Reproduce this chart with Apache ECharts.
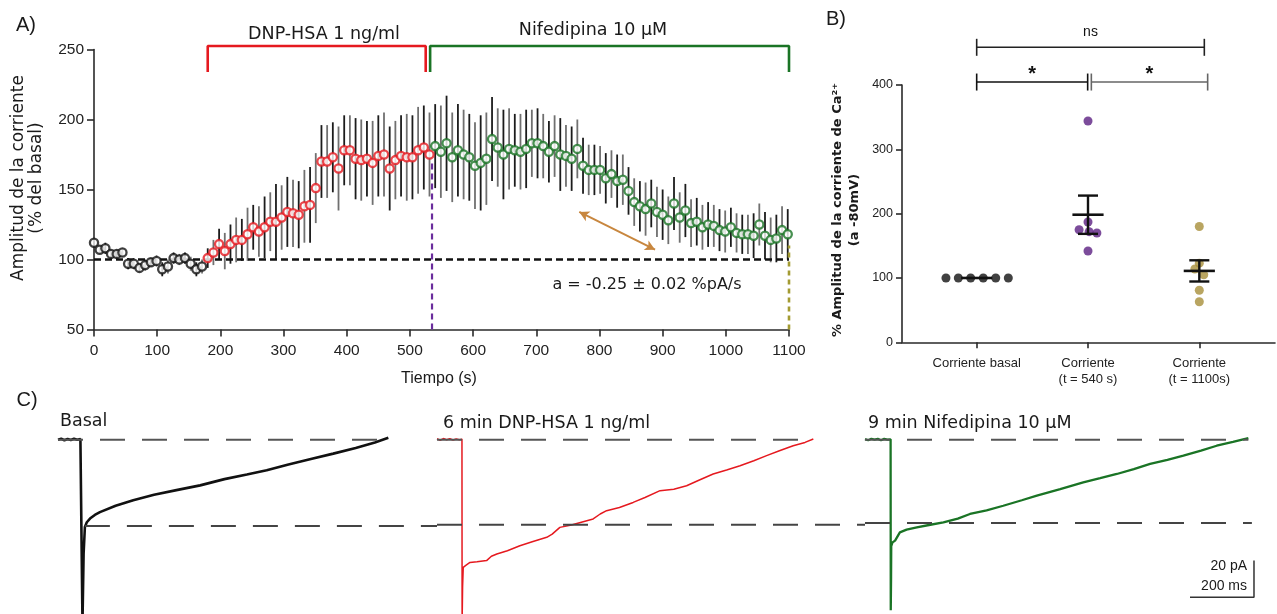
<!DOCTYPE html>
<html>
<head>
<meta charset="utf-8">
<script src="https://cdn.jsdelivr.net/npm/echarts@6.0.0/dist/echarts.min.js"></script>
<style>
html,body{margin:0;padding:0;background:#ffffff;}
#chart{width:1277px;height:614px;}
</style>
</head>
<body>
<div id="chart"></div>
<script>
// ================= Panel A data (time in s, % of basal) =================
const basalTime = [0,9,18,27,36,45,54,63,72,81,90,99,108,117,126,135,144,153,162,171];
const basalMean = [112,107,108,104,104,105,97,97,94,96,98,99,93,95,101,100,101,97,93,95];
const basalSem  = [3,3,4,3,3,3,4,4,3,4,3,4,5,5,4,4,4,5,5,5];

const dnpTime = [180,189,198,207,216,225,234,243,252,261,270,279,288,297,306,315,324,333,342,351,
                 360,369,378,387,396,405,414,423,432,441,450,459,468,477,486,495,504,513,522,531];
const dnpMean = [101,105,111,106,111,114,114,118,123,120,123,127,127,130,134,133,132,138,139,151,
                 170,170,173,165,178,178,172,171,172,169,174,175,165,171,174,173,173,178,180,175];
const dnpSem  = [7,9,11,13,14,16,15,19,16,18,22,21,27,23,25,24,24,26,27,25,
                 26,26,25,30,25,25,29,29,27,30,29,30,30,28,29,31,30,31,30,30];

const nifTime = [540,549,558,567,576,585,594,603,612,621,630,639,648,657,666,675,684,693,702,711,
                 720,729,738,747,756,765,774,783,792,801,810,819,828,837,846,855,864,873,882,891,
                 900,909,918,927,936,945,954,963,972,981,990,999,1008,1017,1026,1035,1044,1053,1062,1071,
                 1080,1089,1098];
const nifMean = [181,177,183,173,178,175,173,167,169,172,186,180,175,179,178,177,179,183,183,181,
                 177,181,175,174,172,179,167,164,164,164,158,161,156,157,149,141,138,136,140,134,
                 132,128,140,130,135,126,127,123,125,124,121,120,123,119,118,118,117,125,117,114,
                 115,121,118];
const nifSem  = [30,33,34,32,33,32,31,31,34,33,30,28,32,29,26,27,28,24,25,23,
                 22,22,26,22,23,21,20,18,18,17,18,17,19,18,17,17,18,19,17,18,
                 18,17,19,18,19,17,17,16,16,15,15,15,14,14,14,14,16,15,17,16,
                 17,17,18];

const xTicksA = [0,100,200,300,400,500,600,700,800,900,1000,1100];
const yTicksA = [50,100,150,200,250];
const dnpPeriod = [180, 525];
const nifPeriod = [532, 1100];
const baselinePct = 100;
const markT540 = 535;
const markT1100 = 1100;
const slopeArrow = [[768,134],[888,107]];
const slopeText = 'a = -0.25 ± 0.02 %pA/s';

// ================= Panel B data (% amplitude at -80 mV) =================
const groupLabels = ['Corriente basal', 'Corriente\n(t = 540 s)', 'Corriente\n(t = 1100s)'];
const valsBasal = [100,100,100,100,100,100];
const vals540   = [344,187,175,172,170,142];
const vals1100  = [180,123,114,105,81,63];
const comparisons = [[0,2,'ns'],[0,1,'*'],[1,2,'*']];
const yTicksB = [0,100,200,300,400];

// ================= Panel C data (traces: [ms, pA]) =================
const traceBasal = [[0,0],[10,0.5],[20,-0.3],[30,0.4],[40,-0.2],[50,0.5],[60,0],[70,0.3],[76,0],
  [76.5,-100],[80,-62],[84,-47.6],[90,-45],[100,-43],[115,-41],[131,-39.5],[180,-36],[235,-33],
  [300,-30],[370,-27.5],[444,-24.9],[520,-21.5],[590,-19],[652,-16.7],[720,-13.5],[790,-10.5],
  [860,-7.6],[930,-4.5],[990,-1.5],[1032,1]];
const traceDnp = [[0,0.5],[10,-0.3],[20,0.6],[30,0],[40,0.5],[50,-0.2],[60,0.4],[70,0],[78,0.3],
  [78.5,-100],[80,-80],[82,-69.6],[90,-68.5],[103,-66.9],[125,-66.5],[155,-65.9],[170,-63.5],
  [187,-62.3],[220,-60.5],[259,-57.8],[300,-55.5],[343,-53.2],[360,-51.5],[384,-47.8],[420,-46.5],
  [488,-43.2],[510,-40.5],[530,-38.7],[570,-37],[613,-34.2],[650,-31.5],[697,-27.8],[740,-27],
  [780,-25.1],[820,-22],[863,-18.7],[905,-16.5],[947,-14.2],[990,-11.5],[1030,-8.7],[1070,-6],
  [1113,-3.3],[1150,-1.5],[1176,0.4]];
const traceNif = [[0,0.3],[10,-0.3],[20,0.5],[30,0],[40,0.4],[50,-0.3],[60,0.4],[70,0],[80,0.2],
  [80.5,-93],[81.5,-75],[82,-58],[86,-56],[94,-55],[109,-50.5],[130,-49],[162,-47.8],[200,-46.5],
  [245,-45.1],[290,-43],[328,-40.5],[380,-38.5],[432,-36],[490,-33],[537,-30.5],[610,-27],
  [682,-23.3],[735,-21],[787,-18.7],[840,-16],[891,-13.2],[945,-11],[995,-8.7],[1050,-6],
  [1099,-3.3],[1150,-1.2],[1198,0.9]];
const peakLevels = [-47, -46.3, -45.4];
const scaleBarPA = 20;
const scaleBarMS = 200;

// ================= helpers / styles =================
const ARIAL = '"Liberation Sans", Arial, Helvetica, sans-serif';
const DEJAVU = '"DejaVu Sans", sans-serif';
const AXIS_COL = '#2a2a2a';
const RED = '#e5191f', GREEN = '#1a7425', BLACK = '#111111';
const PURPLE = '#5b1f82', OLIVE = '#a88f3a';

const zip = (xs, ys) => xs.map((x, i) => [x, ys[i]]);
const mean = a => a.reduce((s, v) => s + v, 0) / a.length;
const sem = a => { const m = mean(a); const sd = Math.sqrt(a.reduce((s, v) => s + (v - m) * (v - m), 0) / (a.length - 1)); return sd / Math.sqrt(a.length); };

const tA = basalTime.concat(dnpTime, nifTime);
const mA = basalMean.concat(dnpMean, nifMean);
const sA = basalSem.concat(dnpSem, nifSem);
const errA = tA.map((t, i) => [t, mA[i] - sA[i], mA[i] + sA[i]]);

// swarm offsets (layout only)
const swarmBasal = [-0.276,-0.165,-0.054,0.059,0.171,0.284];
const swarm540   = [0,0,-0.08,0.01,0.08,0];
const swarm1100  = [0,0,-0.04,0.04,0,0];
const groups = [valsBasal, vals540, vals1100];
const groupColors = [BLACK, PURPLE, OLIVE];
const swarms = [swarmBasal, swarm540, swarm1100];

// bracket layout (panel B)
const bracketSpans = [[0,2.045],[0,0.997],[1.03,2.075]];
const bracketLevels = [458.6, 404.6, 404.6];
const bracketColors = ['#222', '#111', '#666'];

const chart = echarts.init(document.getElementById('chart'), null, {renderer: 'canvas', width: 1277, height: 614});

const gridBase = {containLabel: false, outerBoundsMode: 'none', show: false};
const grids = [
  Object.assign({left: 94, top: 49.5, width: 695, height: 280}, gridBase),
  Object.assign({left: 902, top: 85, width: 373, height: 257.3}, gridBase),
  Object.assign({left: 58, top: 430.5, width: 379, height: 183.5}, gridBase),
  Object.assign({left: 437, top: 430.5, width: 428, height: 183.5}, gridBase),
  Object.assign({left: 865, top: 430.5, width: 412, height: 183.5}, gridBase)
];

const axisLineStyle = {color: AXIS_COL, width: 1.6};
const xAxes = [
  {gridIndex: 0, type: 'value', min: xTicksA[0], max: xTicksA[xTicksA.length - 1], interval: 100,
   axisLine: {show: true, onZero: false, lineStyle: axisLineStyle},
   axisTick: {show: true, length: 7, lineStyle: axisLineStyle},
   axisLabel: {fontSize: 15.5, color: '#222', fontFamily: ARIAL, margin: 13, formatter: v => String(v)},
   splitLine: {show: false}},
  {gridIndex: 1, type: 'value', min: -0.671, max: 2.68,
   axisLine: {show: true, onZero: false, lineStyle: axisLineStyle},
   axisTick: {show: true, length: 6, customValues: [0,1,2], lineStyle: axisLineStyle},
   axisLabel: {customValues: [0,1,2], formatter: v => groupLabels[Math.round(v)], fontSize: 13, lineHeight: 16,
               color: '#222', fontFamily: ARIAL, margin: 13},
   splitLine: {show: false}},
  {gridIndex: 2, type: 'value', min: 0, max: 1184, show: false},
  {gridIndex: 3, type: 'value', min: 0, max: 1337.5, show: false},
  {gridIndex: 4, type: 'value', min: 0, max: 1287.5, show: false}
];
const yAxes = [
  {gridIndex: 0, type: 'value', min: yTicksA[0], max: yTicksA[yTicksA.length - 1], interval: 50,
   axisLine: {show: true, onZero: false, lineStyle: axisLineStyle},
   axisTick: {show: true, length: 7, lineStyle: axisLineStyle},
   axisLabel: {fontSize: 15.5, color: '#222', fontFamily: ARIAL, margin: 10, formatter: v => String(v)},
   splitLine: {show: false}},
  {gridIndex: 1, type: 'value', min: yTicksB[0], max: yTicksB[yTicksB.length - 1], interval: 100,
   axisLine: {show: true, onZero: false, lineStyle: axisLineStyle},
   axisTick: {show: true, length: 6, lineStyle: axisLineStyle},
   axisLabel: {fontSize: 12.5, color: '#222', fontFamily: ARIAL, margin: 9},
   splitLine: {show: false}},
  {gridIndex: 2, type: 'value', min: -95, max: 5, show: false},
  {gridIndex: 3, type: 'value', min: -95, max: 5, show: false},
  {gridIndex: 4, type: 'value', min: -95, max: 5, show: false}
];

function lineEl(a, b, color, w) {
  return {type: 'line', shape: {x1: a[0], y1: a[1], x2: b[0], y2: b[1]}, style: {stroke: color, lineWidth: w}};
}

const series = [];

// ---- Panel A ----
series.push({
  type: 'custom', xAxisIndex: 0, yAxisIndex: 0, data: errA, z: 2,
  encode: {x: 0, y: [1, 2]},
  renderItem: (params, api) => {
    const p1 = api.coord([api.value(0), api.value(1)]);
    const p2 = api.coord([api.value(0), api.value(2)]);
    return lineEl(p1, p2, params.dataIndex % 2 ? '#707070' : '#1c1c1c', 1.8);
  }
});
series.push({
  type: 'line', xAxisIndex: 0, yAxisIndex: 0, symbol: 'none', z: 3, silent: true,
  data: [[xTicksA[0], baselinePct], [xTicksA[xTicksA.length - 1], baselinePct]],
  lineStyle: {color: '#111', width: 2.6, type: [7, 4]},
  markLine: {silent: true, symbol: ['arrow', 'arrow'], symbolSize: [8, 10],
    lineStyle: {color: '#c8873f', width: 2, type: 'solid'}, label: {show: false},
    data: [[{coord: slopeArrow[0]}, {coord: slopeArrow[1]}]]}
});
series.push({
  type: 'line', xAxisIndex: 0, yAxisIndex: 0, symbol: 'none', z: 3, silent: true,
  data: [[markT540, 50], [markT540, 169]], lineStyle: {color: '#6a2c9c', width: 2.2, type: [6, 4]}
});
series.push({
  type: 'line', xAxisIndex: 0, yAxisIndex: 0, symbol: 'none', z: 3, silent: true,
  data: [[markT1100, 50], [markT1100, 110]], lineStyle: {color: '#a39b32', width: 2.6, type: [5, 4]}
});
[[dnpPeriod, RED], [nifPeriod, GREEN]].forEach(([p, c]) => {
  series.push({
    type: 'line', xAxisIndex: 0, yAxisIndex: 0, symbol: 'none', clip: false, silent: true, z: 3,
    data: [[p[0], 234], [p[0], 252.5], [p[1], 252.5], [p[1], 234]],
    lineStyle: {color: c, width: 2.6}
  });
});
[[basalTime, basalMean, BLACK], [dnpTime, dnpMean, RED], [nifTime, nifMean, GREEN]].forEach(([t, m, c]) => {
  series.push({
    type: 'scatter', xAxisIndex: 0, yAxisIndex: 0, data: zip(t, m), symbol: 'circle', symbolSize: 8.2, z: 5,
    itemStyle: {color: '#ffffff', borderColor: c, borderWidth: 2.3}
  });
});

// ---- Panel B ----
groups.forEach((vals, g) => {
  series.push({
    type: 'scatter', xAxisIndex: 1, yAxisIndex: 1, symbol: 'circle', symbolSize: 9, z: 4,
    data: vals.map((v, i) => [g + swarms[g][i], v]),
    itemStyle: {color: groupColors[g]}
  });
});
series.push({
  type: 'custom', xAxisIndex: 1, yAxisIndex: 1, z: 6,
  data: groups.map((vals, g) => [g, mean(vals), sem(vals)]),
  renderItem: (params, api) => {
    const g = api.value(0), m = api.value(1), s = api.value(2);
    const c = (x, y) => api.coord([x, y]);
    const ch = [lineEl(c(g - 0.14, m), c(g + 0.14, m), '#111', 2.6)];
    if (s > 0.5) {
      ch.push(lineEl(c(g, m - s), c(g, m + s), '#111', 2.4));
      ch.push(lineEl(c(g - 0.09, m + s), c(g + 0.09, m + s), '#111', 2.4));
      ch.push(lineEl(c(g - 0.09, m - s), c(g + 0.09, m - s), '#111', 2.4));
    }
    return {type: 'group', children: ch};
  }
});
series.push({
  type: 'custom', xAxisIndex: 1, yAxisIndex: 1, z: 6, clip: false,
  data: comparisons.map(c => [c[0], c[1]]),
  renderItem: (params, api) => {
    const i = params.dataIndex;
    const sp = bracketSpans[i], lv = bracketLevels[i], col = bracketColors[i];
    const p1 = api.coord([sp[0], lv]), p2 = api.coord([sp[1], lv]);
    const h = 8.5;
    const isNs = comparisons[i][2] === 'ns';
    return {type: 'group', children: [
      lineEl(p1, p2, col, 1.6),
      lineEl([p1[0], p1[1] - h], [p1[0], p1[1] + h], col, 1.6),
      lineEl([p2[0], p2[1] - h], [p2[0], p2[1] + h], col, 1.6),
      {type: 'text', x: (p1[0] + p2[0]) / 2, y: p1[1] - (isNs ? 15 : 8),
       style: {text: comparisons[i][2], textAlign: 'center', textVerticalAlign: 'middle', align: 'center', verticalAlign: 'middle',
               font: isNs ? '14px ' + ARIAL : 'bold 20px ' + ARIAL, fill: '#111'}}
    ]};
  }
});

// ---- Panel C ----
const traces = [traceBasal, traceDnp, traceNif];
const traceColors = [BLACK, RED, GREEN];
const traceWidths = [2.6, 1.5, 2.3];
const peakStart = [84, 0, 0];
const peakEnd = [1184, 1337.5, 1209];
traces.forEach((tr, k) => {
  series.push({
    type: 'line', xAxisIndex: 2 + k, yAxisIndex: 2 + k, symbol: 'none', silent: true, z: 4,
    data: tr, lineStyle: {color: traceColors[k], width: traceWidths[k]}
  });
  const endT = tr[tr.length - 1][0];
  series.push({
    type: 'line', xAxisIndex: 2 + k, yAxisIndex: 2 + k, symbol: 'none', silent: true, z: 5,
    data: [[0, 0], [endT, 0]], lineStyle: {color: '#555', width: 2, type: [25, 17]}
  });
  series.push({
    type: 'line', xAxisIndex: 2 + k, yAxisIndex: 2 + k, symbol: 'none', silent: true, z: 5,
    data: [[peakStart[k], peakLevels[k]], [peakEnd[k], peakLevels[k]]], lineStyle: {color: '#444', width: 2, type: [25, 17]}
  });
});
// scale bar in the last trace's coordinates
const sbX = 1215.6, sbY = -85.9;
series.push({
  type: 'line', xAxisIndex: 4, yAxisIndex: 4, symbol: 'none', silent: true, z: 5,
  data: [[sbX - scaleBarMS, sbY], [sbX, sbY], [sbX, sbY + scaleBarPA]],
  lineStyle: {color: '#333', width: 1.5}
});

function txt(x, y, text, font, opts) {
  return Object.assign({type: 'text', x: x, y: y, silent: true,
    style: Object.assign({text: text, font: font, fill: '#1a1a1a', textAlign: 'center', textVerticalAlign: 'middle'}, (opts || {}).style || {})},
    (opts || {}).el || {});
}

const graphics = [
  txt(26, 25, 'A)', '20px ' + ARIAL),
  txt(836, 19, 'B)', '20px ' + ARIAL),
  txt(27, 400, 'C)', '20px ' + ARIAL),
  txt(324, 34, 'DNP-HSA 1 ng/ml', '17.5px ' + DEJAVU),
  txt(593, 30, 'Nifedipina 10 µM', '17.5px ' + DEJAVU),
  txt(647, 285, slopeText, '16px ' + DEJAVU),
  txt(439, 379, 'Tiempo (s)', '16px ' + ARIAL),
  txt(28, 178, 'Amplitud de la corriente\n(% del basal)', '17px ' + DEJAVU, {el: {rotation: Math.PI / 2}, style: {lineHeight: 18}}),
  txt(846, 210, '% Amplitud de la corriente de Ca²⁺\n(a -80mV)', 'bold 13px ' + DEJAVU, {el: {rotation: Math.PI / 2}, style: {lineHeight: 17}}),
  txt(60, 421, 'Basal', '17.5px ' + DEJAVU, {style: {textAlign: 'left'}}),
  txt(443, 423, '6 min DNP-HSA 1 ng/ml', '17.5px ' + DEJAVU, {style: {textAlign: 'left'}}),
  txt(868, 423, '9 min Nifedipina 10 µM', '17.5px ' + DEJAVU, {style: {textAlign: 'left'}}),
  txt(1247, 566, scaleBarPA + ' pA', '14px ' + ARIAL, {style: {textAlign: 'right'}}),
  txt(1247, 586, scaleBarMS + ' ms', '14px ' + ARIAL, {style: {textAlign: 'right'}})
];

chart.setOption({
  animation: false,
  backgroundColor: '#ffffff',
  grid: grids,
  xAxis: xAxes,
  yAxis: yAxes,
  series: series,
  graphic: graphics
});
</script>
</body>
</html>
